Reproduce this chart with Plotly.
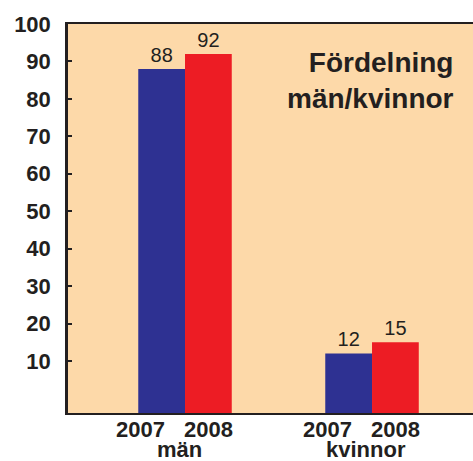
import plotly.graph_objects as go

groups = ["män", "kvinnor"]
years = ["2007", "2008"]
values_2007 = [88, 12]
values_2008 = [92, 15]
y_ticks = [10, 20, 30, 40, 50, 60, 70, 80, 90, 100]
title_lines = ["Fördelning", "män/kvinnor"]

BLUE = "#2E3192"
RED = "#ED1C24"
BG = "#FDD9A9"
INK = "#231F20"
FONT = "Arial, Liberation Sans, Helvetica, sans-serif"
Y_MIN = -3.9

xpos = list(range(len(groups)))

fig = go.Figure()
for name, vals, col in [(years[0], values_2007, BLUE), (years[1], values_2008, RED)]:
    fig.add_trace(go.Bar(
        x=xpos, y=[v - Y_MIN for v in vals], base=Y_MIN, name=name,
        marker=dict(color=col, line=dict(width=0)),
        text=[str(v) for v in vals], textposition="outside",
        textfont=dict(family=FONT, size=20, color=INK),
        cliponaxis=False, hoverinfo="skip",
    ))

annotations = []
for gi in xpos:
    for yr, off in zip(years, [-0.24, 0.123]):
        annotations.append(dict(
            x=gi + off, y=0, xref="x", yref="paper", yanchor="top", xanchor="center",
            text="<b>%s</b>" % yr, showarrow=False, yshift=-2,
            font=dict(family=FONT, size=22, color=INK),
        ))
    annotations.append(dict(
        x=gi - 0.03, y=0, xref="x", yref="paper", yanchor="top", xanchor="center",
        text="<b>%s</b>" % groups[gi], showarrow=False, yshift=-22,
        font=dict(family=FONT, size=22, color=INK),
    ))

annotations.append(dict(
    x=0.958, y=0.946, xref="paper", yref="paper", xanchor="right", yanchor="top",
    align="right", text="<b>" + "<br>".join(title_lines) + "</b>", showarrow=False,
    font=dict(family=FONT, size=28, color=INK),
))

fig.update_layout(
    width=473, height=461,
    margin=dict(l=68, r=0, t=24, b=48),
    paper_bgcolor="white", plot_bgcolor=BG,
    barmode="group", bargap=0.5, bargroupgap=0,
    showlegend=False,
    annotations=annotations,
    xaxis=dict(range=[-0.6257, 1.540], showgrid=False, zeroline=False,
               showticklabels=False, ticks="", showline=True, linecolor=INK,
               linewidth=2, mirror=True, fixedrange=True),
    yaxis=dict(range=[Y_MIN, 100], tickvals=y_ticks, showgrid=False, zeroline=False,
               ticks="inside", ticklen=4, tickwidth=2, tickcolor=INK,
               showline=True, linecolor=INK, linewidth=2.5,
               ticklabelstandoff=10,
               tickfont=dict(family=FONT, size=22, color=INK, weight="bold"),
               fixedrange=True),
)

fig.write_html(
    "out.html",
    config={"displayModeBar": False},
    post_script="document.body.style.margin='0';document.body.style.overflow='hidden';",
)
